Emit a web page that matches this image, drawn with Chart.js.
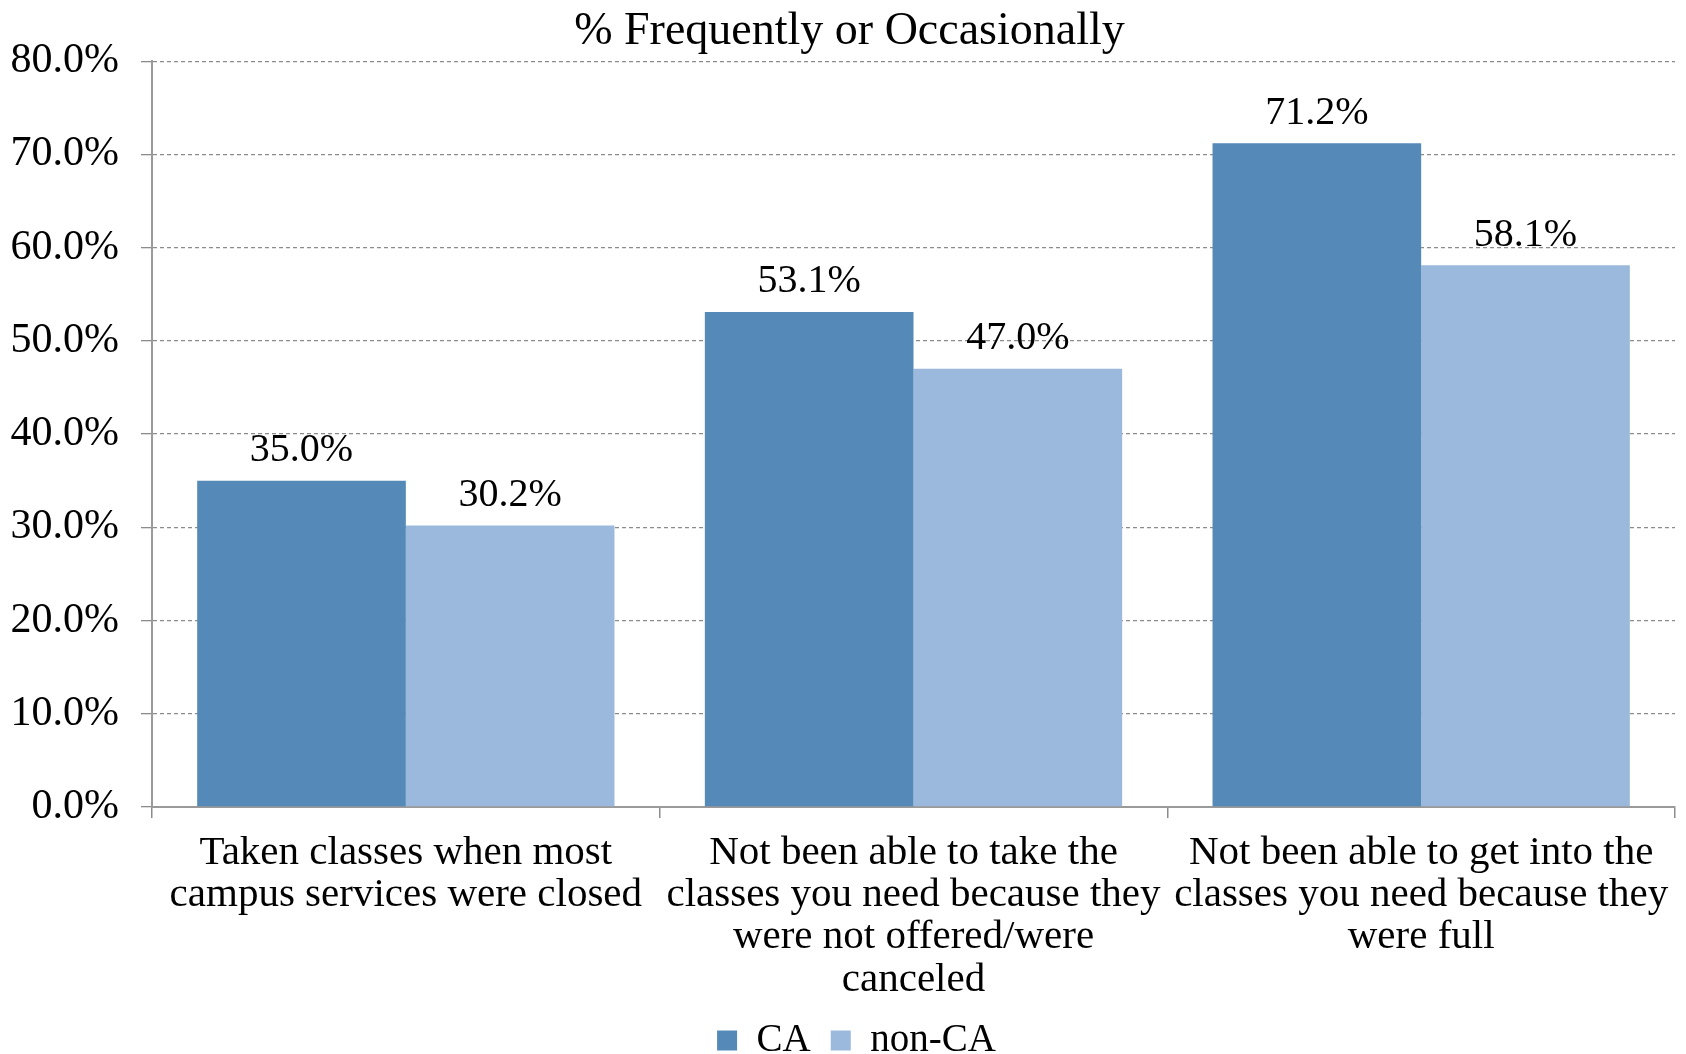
<!DOCTYPE html>
<html>
<head>
<meta charset="utf-8">
<script src="https://cdn.jsdelivr.net/npm/chart.js@4/dist/chart.umd.min.js"></script>
<style>
html, body { margin: 0; padding: 0; background: #fff; }
</style>
</head>
<body>
<canvas id="chart" width="1686" height="1054"></canvas>
<script>
var categories = [
    ['Taken classes when most', 'campus services were closed'],
    ['Not been able to take the', 'classes you need because they', 'were not offered/were', 'canceled'],
    ['Not been able to get into the', 'classes you need because they', 'were full']
];
var caValues = [35.0, 53.1, 71.2];
var nonCaValues = [30.2, 47.0, 58.1];
var yMax = 80;
var yStep = 10;

var FONT = '"Liberation Serif", "Times New Roman", serif';

// values above the bars
var valueLabels = {
    id: 'valueLabels',
    afterDatasetsDraw: function (chart) {
        var ctx = chart.ctx;
        ctx.save();
        ctx.font = '40px ' + FONT;
        ctx.fillStyle = '#000';
        ctx.textAlign = 'center';
        ctx.textBaseline = 'middle';
        chart.data.datasets.forEach(function (ds, i) {
            chart.getDatasetMeta(i).data.forEach(function (bar, j) {
                ctx.fillText(ds.data[j].toFixed(1) + '%', bar.x, bar.y - 30);
            });
        });
        ctx.restore();
    }
};

// nudge legend and title a bit, like the original
var boxShift = {
    id: 'boxShift',
    afterLayout: function (chart) {
        var lg = chart.legend;
        lg.left += 19; lg.right += 19;
        lg.top += 4; lg.bottom += 4;
        var tb = chart.titleBlock;
        tb.left += 12; tb.right += 12;
        tb.top += 2; tb.bottom += 2;
    }
};

var chart = new Chart(document.getElementById('chart'), {
    type: 'bar',
    data: {
        labels: categories,
        datasets: [{
            label: 'CA',
            data: caValues,
            backgroundColor: '#5589b8',
            borderWidth: 0
        }, {
            label: 'non-CA',
            data: nonCaValues,
            backgroundColor: '#9ab9dc',
            borderWidth: 0
        }]
    },
    options: {
        responsive: false,
        animation: false,
        layout: { padding: { left: 0, right: 11, top: 0, bottom: -12 } },
        datasets: { bar: { categoryPercentage: 0.822, barPercentage: 1.0 } },
        plugins: {
            title: {
                display: true,
                text: '% Frequently or Occasionally',
                color: '#000',
                font: { family: FONT, size: 46, weight: 'normal' },
                padding: { top: 2, bottom: 4 }
            },
            legend: {
                position: 'bottom',
                labels: {
                    color: '#000',
                    font: { family: FONT, size: 39 },
                    boxWidth: 20,
                    boxHeight: 20,
                    padding: 20
                }
            },
            tooltip: { enabled: false }
        },
        scales: {
            x: {
                grid: { drawOnChartArea: false, drawTicks: true, tickLength: 11, color: '#8c8c8c', lineWidth: 1.5 },
                border: { color: '#9a9a9a', width: 2 },
                ticks: {
                    color: '#000',
                    font: { family: FONT, size: 41, lineHeight: 1.03 },
                    padding: 14,
                    maxRotation: 0,
                    autoSkip: false
                },
                afterFit: function (s) { s.height = 190; }
            },
            y: {
                min: 0,
                max: yMax,
                grid: { color: '#8c8c8c', lineWidth: 1.3, tickLength: 11 },
                border: { color: '#9a9a9a', width: 2, dash: [4, 3] },
                ticks: {
                    stepSize: yStep,
                    color: '#000',
                    padding: 22,
                    font: { family: FONT, size: 42 },
                    callback: function (v) { return v.toFixed(1) + '%'; }
                },
                afterFit: function (s) { s.width = 152; }
            }
        }
    },
    plugins: [valueLabels, boxShift]
});
</script>
</body>
</html>
